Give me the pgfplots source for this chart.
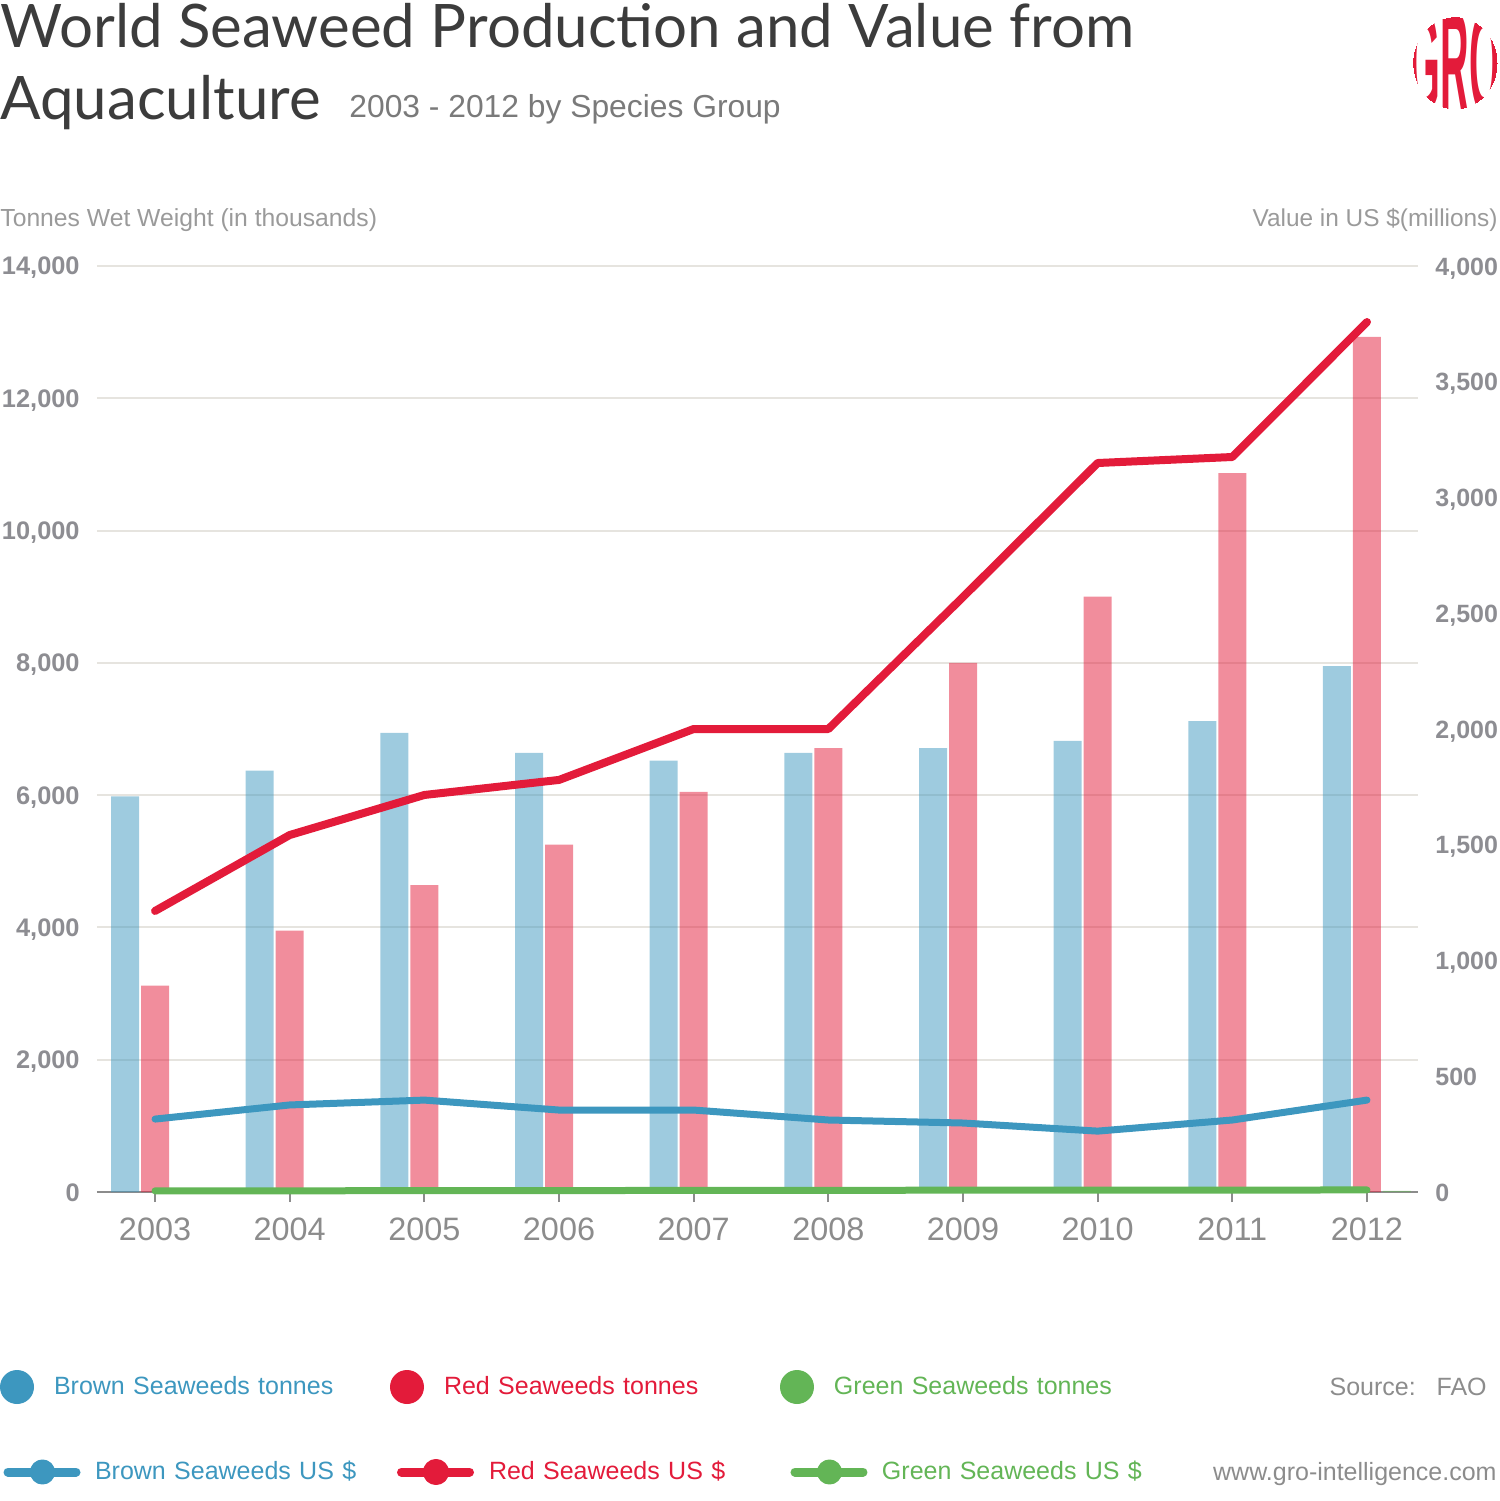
\documentclass[border=0pt]{standalone}
\usepackage{fontspec}
\setmainfont{Liberation Sans}
\newfontfamily\titlefont{Lato}
\usepackage{pgfplots}
\usepackage{pgfplotstable}
\pgfplotsset{compat=1.18}
\definecolor{brownc}{HTML}{3D97BF}
\definecolor{redc}{HTML}{E31B3A}
\definecolor{greenc}{HTML}{63B556}
\definecolor{gridc}{HTML}{E6E4DF}
\definecolor{axgrey}{HTML}{8C8C8C}
\definecolor{tickgrey}{HTML}{8D8D92}
\definecolor{titlegrey}{HTML}{3C3C3C}
\definecolor{subgrey}{HTML}{7A7A7A}
\definecolor{labgrey}{HTML}{9A9A9A}

\pgfplotstableread{
year brown red green
2003 5980 3120 12
2004 6370 3950 14
2005 6940 4640 13
2006 6640 5250 15
2007 6520 6050 15
2008 6640 6710 16
2009 6710 8000 17
2010 6820 9000 16
2011 7120 10870 17
2012 7950 12930 18
}\tonnes

\pgfplotstableread{
year brown red green
2003 315 1214 5
2004 376 1542 5
2005 397 1715 6
2006 354 1780 6
2007 354 2000 7
2008 311 2000 7
2009 298 2570 8
2010 263 3149 8
2011 311 3175 8
2012 397 3758 9
}\values

\begin{document}
\begin{tikzpicture}
\useasboundingbox (0,0) rectangle (750pt,750.5pt);
% titles
\node[anchor=base west, inner sep=0pt, font=\titlefont\fontsize{30}{30}\selectfont, text=titlegrey] at (0pt,726.5pt) {World Seaweed Production and Value from};
\node[anchor=base west, inner sep=0pt, font=\titlefont\fontsize{30}{30}\selectfont, text=titlegrey] at (0pt,690.5pt) {Aquaculture};
\node[anchor=base west, inner sep=0pt, font=\fontsize{15.9}{15.9}\selectfont, text=subgrey] at (174.5pt,691.5pt) {2003 - 2012 by Species Group};
\node[anchor=base west, inner sep=0pt, font=\fontsize{12.35}{12.35}\selectfont, text=labgrey] at (0pt,637pt) {Tonnes Wet Weight (in thousands)};
\node[anchor=base east, inner sep=0pt, font=\fontsize{12.2}{12.2}\selectfont, text=labgrey] at (749pt,637pt) {Value in US \$(millions)};
% logo
\begin{scope}
\clip (727.5pt,719pt) ellipse (21pt and 23pt);
\node[text=redc, font=\bfseries\fontsize{30}{30}\selectfont, xscale=0.66, yscale=2.4, inner sep=0pt] at (727.5pt,719pt) {GRO};
\end{scope}
% source
\node[anchor=base east, inner sep=0pt, font=\fontsize{12.5}{12.5}\selectfont, text=axgrey] at (743.5pt,52.5pt) {Source:\ \ \ FAO};
\node[anchor=base east, inner sep=0pt, font=\fontsize{12.5}{12.5}\selectfont, text=axgrey] at (748.5pt,10pt) {www.gro-intelligence.com};

\begin{axis}[
  at={(48.5pt,154.5pt)}, anchor=south west,
  scale only axis, width=660.5pt, height=463pt,
  xmin=2002.569, xmax=2012.379, ymin=0, ymax=14000,
  axis x line*=bottom, axis y line*=left,
  y axis line style={draw=none},
  x axis line style={draw=axgrey, line width=1pt, -},
  xtick={2003,2004,2005,2006,2007,2008,2009,2010,2011,2012},
  xticklabels={2003,2004,2005,2006,2007,2008,2009,2010,2011,2012},
  x tick style={draw=axgrey, line width=1pt},
  tick align=outside, major tick length=5pt,
  xticklabel style={font=\fontsize{16.2}{16.2}\selectfont, text=axgrey, inner sep=0pt, anchor=north, yshift=-7.5pt},
  ytick={0,2000,4000,6000,8000,10000,12000,14000},
  scaled y ticks=false,
  y tick style={draw=none},
  yticklabel style={font=\bfseries\fontsize{12.7}{12.7}\selectfont, text=tickgrey, inner sep=0pt, anchor=base east, xshift=-3.5pt, yshift=-4.5pt},
  /pgf/number format/1000 sep={,},
  /pgf/number format/assume math mode=true,
  ymajorgrids, grid style={draw=gridc, line width=1pt},
  legend columns=3,
  legend cell align=left,
  legend style={at={(axis description cs:-0.07343,-0.21058)}, anchor=west, draw=none, fill=none, inner sep=0pt, outer sep=0pt, font=\fontsize{12.5}{12.5}\selectfont, nodes={inner sep=0pt, text width=168pt}},
]
\addplot[ybar, bar width=14pt, bar shift=-15pt, draw=none, fill=brownc, fill opacity=0.5,
  legend image code/.code={\fill[brownc, fill opacity=1, opacity=1] (8.5pt,0pt) circle (8.5pt); \path (27pt,0pt);}]
  table[x=year,y=brown]{\tonnes};
\addlegendentry{\textcolor{brownc}{Brown Seaweeds tonnes}}
\addplot[ybar, bar width=14pt, bar shift=0pt, draw=none, fill=redc, fill opacity=0.5,
  legend image code/.code={\fill[redc, fill opacity=1, opacity=1] (8.5pt,0pt) circle (8.5pt); \path (27pt,0pt);}]
  table[x=year,y=red]{\tonnes};
\addlegendentry{\textcolor{redc}{Red Seaweeds tonnes}}
\addplot[ybar, bar width=14pt, bar shift=15pt, draw=none, fill=greenc, fill opacity=0.5,
  legend image code/.code={\fill[greenc, fill opacity=1, opacity=1] (8.5pt,0pt) circle (8.5pt); \path (27pt,0pt);}]
  table[x=year,y=green]{\tonnes};
\addlegendentry{\textcolor{greenc}{Green Seaweeds tonnes}}
\end{axis}

\begin{axis}[
  at={(48.5pt,154.5pt)}, anchor=south west,
  scale only axis, width=660.5pt, height=463pt,
  xmin=2002.569, xmax=2012.379, ymin=0, ymax=4000,
  axis x line=none, axis y line*=right,
  y axis line style={draw=none},
  ytick={0,500,1000,1500,2000,2500,3000,3500,4000},
  scaled y ticks=false,
  y tick style={draw=none},
  yticklabel style={font=\bfseries\fontsize{12.5}{12.5}\selectfont, text=tickgrey, inner sep=0pt, anchor=base west, xshift=8.5pt, yshift=-4.5pt},
  /pgf/number format/1000 sep={,},
  /pgf/number format/assume math mode=true,
  clip=false,
  legend columns=3,
  legend cell align=left,
  legend style={at={(axis description cs:-0.07343,-0.30238)}, anchor=west, draw=none, fill=none, inner sep=0pt, outer sep=0pt, font=\fontsize{12.5}{12.5}\selectfont, nodes={inner sep=0pt, text width=149pt}},
]
\addplot[brownc, line width=3.5pt, line join=round, line cap=round, mark=none,
  legend image code/.code={\draw[brownc, line width=4.5pt, line cap=round] (2.25pt,0pt) -- (36.25pt,0pt); \fill[brownc] (19.5pt,0pt) circle (4.5pt); \path (0pt,0pt) (44pt,0pt);}]
  table[x=year,y=brown]{\values};
\addlegendentry{\textcolor{brownc}{Brown Seaweeds US \$}}
\addplot[redc, line width=4pt, line join=round, line cap=round, mark=none,
  legend image code/.code={\draw[redc, line width=4.5pt, line cap=round] (2.25pt,0pt) -- (36.25pt,0pt); \fill[redc] (19.5pt,0pt) circle (4.5pt); \path (0pt,0pt) (44pt,0pt);}]
  table[x=year,y=red]{\values};
\addlegendentry{\textcolor{redc}{Red Seaweeds US \$}}
\addplot[greenc, line width=3.5pt, line join=round, line cap=round, mark=none,
  legend image code/.code={\draw[greenc, line width=4.5pt, line cap=round] (2.25pt,0pt) -- (36.25pt,0pt); \fill[greenc] (19.5pt,0pt) circle (4.5pt); \path (0pt,0pt) (44pt,0pt);}]
  table[x=year,y=green]{\values};
\addlegendentry{\textcolor{greenc}{Green Seaweeds US \$}}
\end{axis}
\end{tikzpicture}
\end{document}
